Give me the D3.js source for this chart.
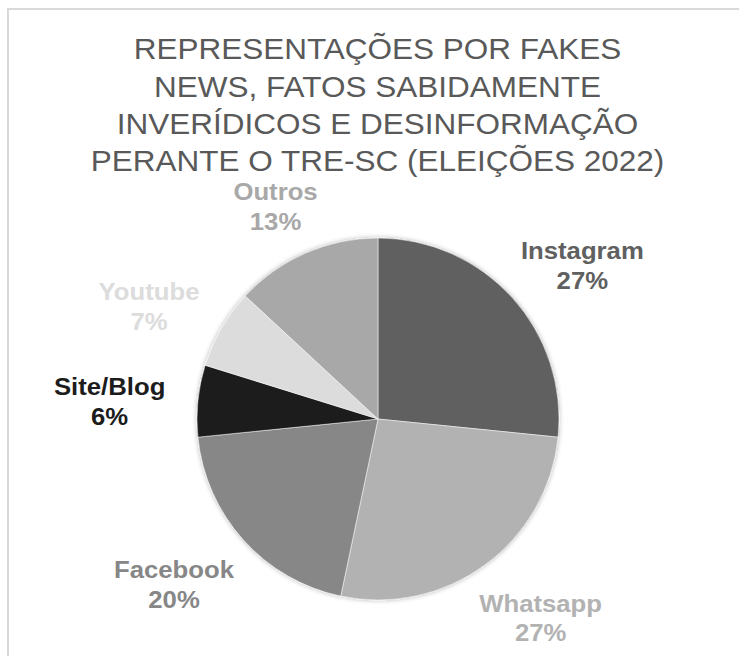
<!DOCTYPE html>
<html>
<head>
<meta charset="utf-8">
<script src="https://cdn.jsdelivr.net/npm/d3@7"></script>
<style>
  body { margin: 0; background: #fff; }
  svg { display: block; font-family: "Liberation Sans", Arial, sans-serif; }
</style>
</head>
<body>
<div id="chart"></div>
<script>
let titleLines = ["REPRESENTAÇÕES POR FAKES", "NEWS, FATOS SABIDAMENTE", "INVERÍDICOS E DESINFORMAÇÃO", "PERANTE O TRE-SC (ELEIÇÕES 2022)"];
let categories = ["Instagram", "Whatsapp", "Facebook", "Site/Blog", "Youtube", "Outros"];
let values = [26.6, 26.7, 20.1, 6.4, 7.1, 13.1];
let colors = ["#606060", "#b2b2b2", "#878787", "#1c1c1c", "#dcdcdc", "#a8a8a8"];

let width = 739, height = 656,
    cx = 378, cy = 419, radius = 181, labelPad = 33,
    stretch = 1.05; // source picture is slightly wider than tall

let svg = d3.select("#chart").append("svg")
    .attr("width", width)
    .attr("height", height);

// chart area frame (right and bottom sides are cropped)
svg.append("rect")
    .attr("x", 8).attr("y", 9)
    .attr("width", width + 20).attr("height", height + 20)
    .attr("fill", "none")
    .attr("stroke", "#d9d9d9")
    .attr("stroke-width", 2);

// title
svg.append("g")
    .attr("transform", "translate(377.5,0) scale(" + stretch + ",1)")
    .selectAll("text")
    .data(titleLines)
    .enter().append("text")
    .attr("x", 0)
    .attr("y", function (d, i) { return 59.5 + i * 37.3; })
    .attr("text-anchor", "middle")
    .attr("font-size", 30)
    .attr("fill", "#595959")
    .text(function (d) { return d; });

let data = categories.map(function (c, i) {
    return { name: c, value: values[i], color: colors[i] };
});

let pie = d3.pie().sort(null).value(function (d) { return d.value; });
let arc = d3.arc().innerRadius(0).outerRadius(radius);
let total = d3.sum(values);

let defs = svg.append("defs");
let f = defs.append("filter").attr("id", "shadow")
    .attr("x", "-10%").attr("y", "-10%").attr("width", "120%").attr("height", "120%");
f.append("feGaussianBlur").attr("in", "SourceAlpha").attr("stdDeviation", 2.5);
f.append("feComponentTransfer").append("feFuncA").attr("type", "linear").attr("slope", 0.3);
let m = f.append("feMerge");
m.append("feMergeNode");
m.append("feMergeNode").attr("in", "SourceGraphic");

let g = svg.append("g").attr("transform", "translate(" + cx + "," + cy + ")");

g.append("g").attr("filter", "url(#shadow)")
    .selectAll("path")
    .data(pie(data))
    .enter().append("path")
    .attr("d", arc)
    .attr("fill", function (d) { return d.data.color; })
    .attr("stroke", "#fff")
    .attr("stroke-width", 0.5);

// labels: outside end, box pushed out along the slice's middle angle
let labels = g.selectAll(".label")
    .data(pie(data))
    .enter().append("g")
    .attr("class", "label");

let txt = labels.append("text")
    .attr("text-anchor", "middle")
    .attr("font-size", 24.5)
    .attr("font-weight", "bold")
    .attr("fill", function (d) { return d.data.color; });

txt.append("tspan")
    .attr("x", 0).attr("y", -6)
    .text(function (d) { return d.data.name; });
txt.append("tspan")
    .attr("x", 0).attr("y", 24)
    .text(function (d) { return Math.round(d.data.value / total * 100) + "%"; });

labels.attr("transform", function (d) {
    let a = (d.startAngle + d.endAngle) / 2,
        s = Math.sin(a), c = Math.cos(a),
        w = this.getBBox().width * stretch,
        h = 49,
        r = radius + labelPad;
    let x = r * s + (w / 2) * s,
        y = -r * c - (h / 2) * c;
    return "translate(" + x + "," + (y + 6) + ") scale(" + stretch + ",1)";
});
</script>
</body>
</html>
